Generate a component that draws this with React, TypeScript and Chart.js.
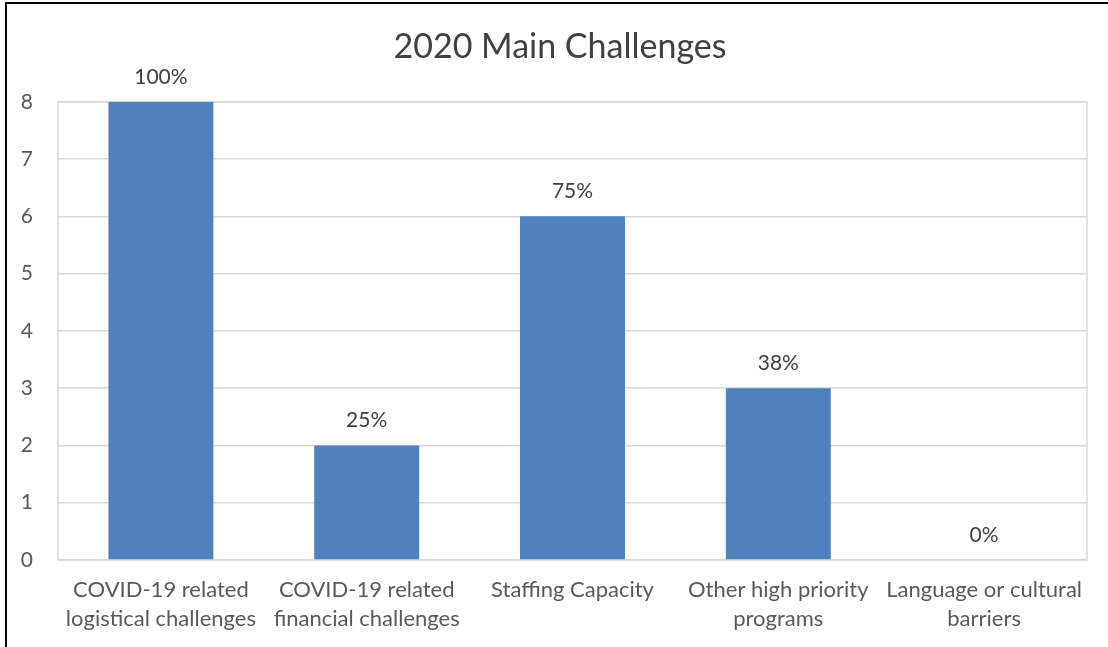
import React, { useEffect, useRef } from "react";
import { Chart, registerables } from "chart.js";

Chart.register(...registerables);

const categories: string[][] = [
  ["COVID-19 related", "logistical challenges"],
  ["COVID-19 related", "financial challenges"],
  ["Staffing Capacity"],
  ["Other high priority", "programs"],
  ["Language or cultural", "barriers"],
];
const counts: number[] = [8, 2, 6, 3, 0];
const percentLabels: string[] = ["100%", "25%", "75%", "38%", "0%"];
const yTicks: number[] = [0, 1, 2, 3, 4, 5, 6, 7, 8];

const FONT = "Lato, Carlito, sans-serif";
const TEXT = "#595959";
const GRID = "#d9d9d9";
const BAR = "#4f81bd";

const plotBorder = {
  id: "plotBorder",
  beforeDatasetsDraw(chart: any) {
    const { ctx, chartArea } = chart;
    ctx.save();
    ctx.strokeStyle = GRID;
    ctx.lineWidth = 1.5;
    ctx.strokeRect(chartArea.left, chartArea.top, chartArea.right - chartArea.left, chartArea.bottom - chartArea.top);
    ctx.restore();
  },
};

const dataLabels = {
  id: "dataLabels",
  afterDatasetsDraw(chart: any) {
    const { ctx } = chart;
    const meta = chart.getDatasetMeta(0);
    ctx.save();
    ctx.font = `21px ${FONT}`;
    ctx.fillStyle = "#404040";
    ctx.textAlign = "center";
    ctx.textBaseline = "middle";
    meta.data.forEach((el: any, i: number) => {
      ctx.fillText(percentLabels[i], el.x, el.y - 25);
    });
    ctx.restore();
  },
};

export default function App() {
  const ref = useRef<HTMLCanvasElement | null>(null);
  useEffect(() => {
    if (!ref.current) return;
    const chart = new Chart(ref.current, {
      type: "bar",
      data: {
        labels: categories,
        datasets: [
          {
            data: counts,
            backgroundColor: BAR,
            categoryPercentage: 1,
            barPercentage: 0.51,
          },
        ],
      },
      options: {
        responsive: false,
        animation: false,
        layout: { padding: { left: 12, right: 0, top: 0, bottom: 0 } },
        plugins: {
          legend: { display: false },
          tooltip: { enabled: false },
          title: {
            display: true,
            text: "2020 Main Challenges",
            color: "#404040",
            font: { family: FONT, size: 34, weight: "normal", lineHeight: 1.2 },
            padding: { top: 27, bottom: 34 },
          },
        },
        scales: {
          x: {
            grid: { display: false, drawTicks: false },
            border: { display: false },
            ticks: {
              color: TEXT,
              font: { family: FONT, size: 22, lineHeight: 1.3 },
              padding: 16,
              maxRotation: 0,
              autoSkip: false,
            },
            afterFit(scale: any) {
              scale.height = 87;
            },
          },
          y: {
            min: 0,
            max: 8,
            afterBuildTicks(scale: any) {
              scale.ticks = yTicks.map((v) => ({ value: v }));
            },
            grid: { color: GRID, lineWidth: 1.5, drawTicks: false },
            border: { display: false },
            ticks: {
              color: TEXT,
              font: { family: FONT, size: 21 },
              padding: 25,
            },
            afterFit(scale: any) {
              scale.width = 46;
            },
          },
          yRightSpacer: {
            position: "right",
            min: 0,
            max: 8,
            grid: { display: false, drawTicks: false },
            border: { display: false },
            ticks: { display: false },
            afterFit(scale: any) {
              scale.width = 21;
            },
          },
        },
      },
      plugins: [plotBorder, dataLabels],
    });
    return () => chart.destroy();
  }, []);

  return (
    <div style={{ position: "fixed", left: 0, top: 0, width: 1108, height: 647, background: "#fff" }}>
      <canvas ref={ref} width={1108} height={647} style={{ position: "absolute", left: 0, top: 0 }} />
      <div
        style={{
          position: "absolute",
          left: 5,
          top: 2,
          right: 0,
          bottom: 0,
          borderLeft: "2px solid #000",
          borderTop: "2px solid #000",
          pointerEvents: "none",
        }}
      />
    </div>
  );
}
